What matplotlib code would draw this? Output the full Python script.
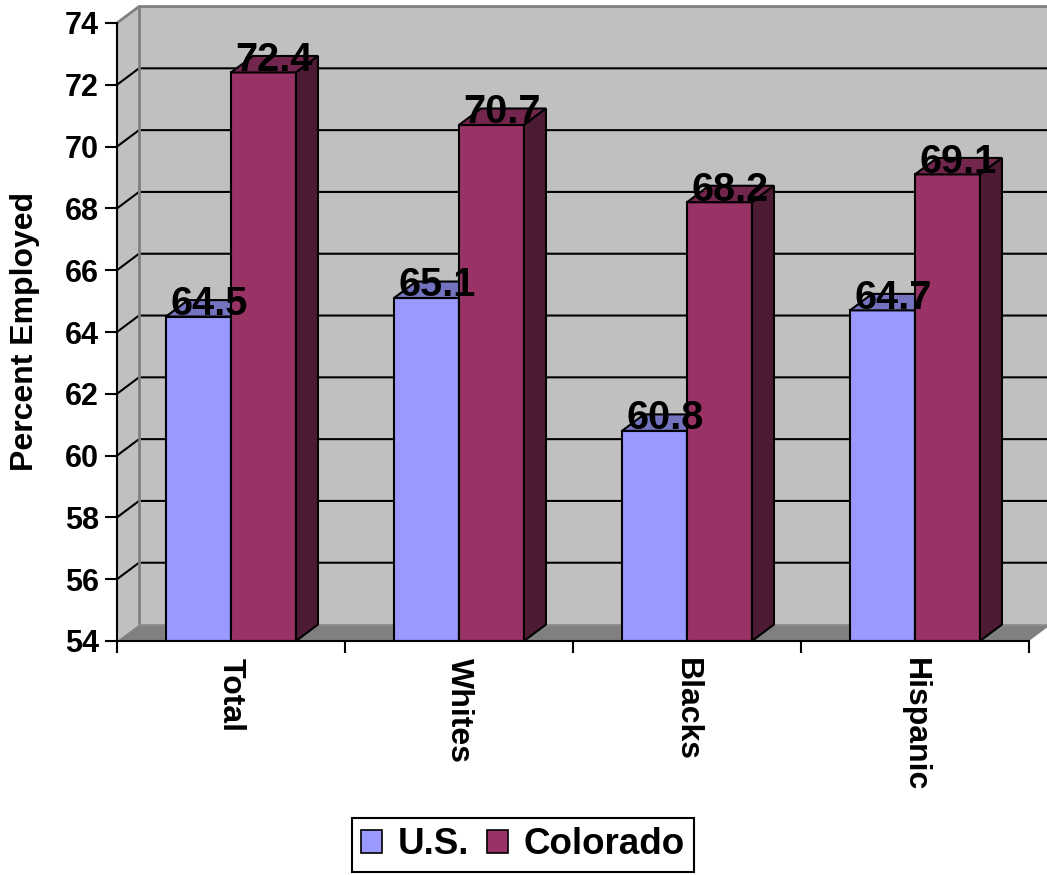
import matplotlib
matplotlib.use("Agg")
import matplotlib.pyplot as plt
from matplotlib.patches import Polygon
import numpy as np

plt.rcParams['font.family'] = ['Liberation Sans', 'DejaVu Sans']
plt.rcParams['font.weight'] = 'bold'

# employment rates by group
categories = ['Total', 'Whites', 'Blacks', 'Hispanic']
us = [64.5, 65.1, 60.8, 64.7]
colorado = [72.4, 70.7, 68.2, 69.1]
series_names = ['U.S.', 'Colorado']
yticks = list(range(54, 76, 2))

front_colors = ['#9999FF', '#993366']
top_colors = ['#7373BF', '#73264D']
side_colors = ['#4D4D80', '#4D1A33']

# fake 3d depth, in data units
dx = 0.0965
dy = 0.533
bw = 0.285
ymin, ymax = 54, 74
n = len(categories)

fig = plt.figure(figsize=(10.47, 8.75), dpi=100)
ax = fig.add_axes([117 / 1047, 234 / 875, 930 / 1047, 641 / 875])
ax.set_xlim(0, 930 / 228)
ax.set_ylim(ymin, ymin + 641 / 30.9)
ax.patch.set_visible(False)

# walls and floor
back = Polygon([(dx, ymin + dy), (n + dx, ymin + dy), (n + dx, ymax + dy), (dx, ymax + dy)],
               closed=True, facecolor='#C0C0C0', edgecolor='none', zorder=0)
left = Polygon([(0, ymin), (dx, ymin + dy), (dx, ymax + dy), (0, ymax)],
               closed=True, facecolor='#C0C0C0', edgecolor='none', zorder=0)
floor = Polygon([(0, ymin), (n, ymin), (n + dx, ymin + dy), (dx, ymin + dy)],
                closed=True, facecolor='#808080', edgecolor='none', zorder=0)
for p in (back, left, floor):
    ax.add_patch(p)

for v in yticks[1:-1]:
    ax.plot([0, dx, n + dx], [v, v + dy, v + dy], color='black', lw=1.5, zorder=1)
ax.plot([0, dx, n + dx], [ymax, ymax + dy, ymax + dy], color='#808080', lw=2, zorder=1)
ax.plot([dx, dx], [ymin + dy, ymax + dy], color='#808080', lw=2, zorder=1)
ax.plot([dx, n + dx], [ymin + dy, ymin + dy], color='#909090', lw=1.2, zorder=1)

# bars with top and side faces
x = np.arange(n)
for s, vals in enumerate([us, colorado]):
    lefts = x + 0.5 - bw + s * bw
    ax.bar(lefts, np.array(vals) - ymin, width=bw, bottom=ymin, align='edge',
           color=front_colors[s], edgecolor='black', linewidth=1.5, zorder=3,
           label=series_names[s])
    for x0, v in zip(lefts, vals):
        x1 = x0 + bw
        top = Polygon([(x0, v), (x1, v), (x1 + dx, v + dy), (x0 + dx, v + dy)], closed=True,
                      facecolor=top_colors[s], edgecolor='black', linewidth=1.5, zorder=3)
        side = Polygon([(x1, ymin), (x1 + dx, ymin + dy), (x1 + dx, v + dy), (x1, v)], closed=True,
                       facecolor=side_colors[s], edgecolor='black', linewidth=1.5, zorder=3)
        ax.add_patch(top)
        ax.add_patch(side)
    for x0, v in zip(lefts, vals):
        ax.text(x0 + bw / 2 + dx / 2, v + 0.05, f'{v:.1f}', ha='center', va='baseline',
                fontsize=28.5, fontweight='bold', color='black', zorder=5)

# axes
for side_name in ('top', 'right'):
    ax.spines[side_name].set_visible(False)
ax.spines['left'].set_bounds(ymin, ymax)
ax.spines['bottom'].set_bounds(0, n)
ax.spines['left'].set_linewidth(1.5)
ax.spines['bottom'].set_linewidth(1.5)
ax.spines['left'].set_zorder(4)
ax.spines['bottom'].set_zorder(4)

ax.set_yticks(yticks)
ax.set_yticklabels([str(t) for t in yticks], fontsize=22, fontweight='bold')
ax.tick_params(axis='y', length=8.5, width=1.5, pad=4.5)

ax.set_xticks(range(n + 1))
ax.set_xticklabels([''] * (n + 1))
ax.tick_params(axis='x', which='major', length=8.5, width=1.5)
ax.set_xticks(x + 0.5, minor=True)
ax.set_xticklabels(categories, minor=True, rotation=-90, fontsize=23, fontweight='bold')
ax.tick_params(axis='x', which='minor', length=0, pad=12)

ax.set_ylabel('Percent Employed', fontsize=23, fontweight='bold', va='center')
ax.yaxis.set_label_coords(-0.0989, 0.4836)

leg = fig.legend(loc='center', bbox_to_anchor=(523 / 1047, 30 / 875), ncol=2,
                 fontsize=26.5, frameon=True, fancybox=False, shadow=False,
                 handlelength=0.57, handleheight=0.62, handletextpad=0.42,
                 columnspacing=0.48, borderpad=0.25, borderaxespad=0)
leg.get_frame().set_edgecolor('black')
leg.get_frame().set_linewidth(1.5)
leg.get_frame().set_alpha(1)
for h in leg.legend_handles:
    h.set_linewidth(1.2)

fig.savefig('out.png', dpi=100)
